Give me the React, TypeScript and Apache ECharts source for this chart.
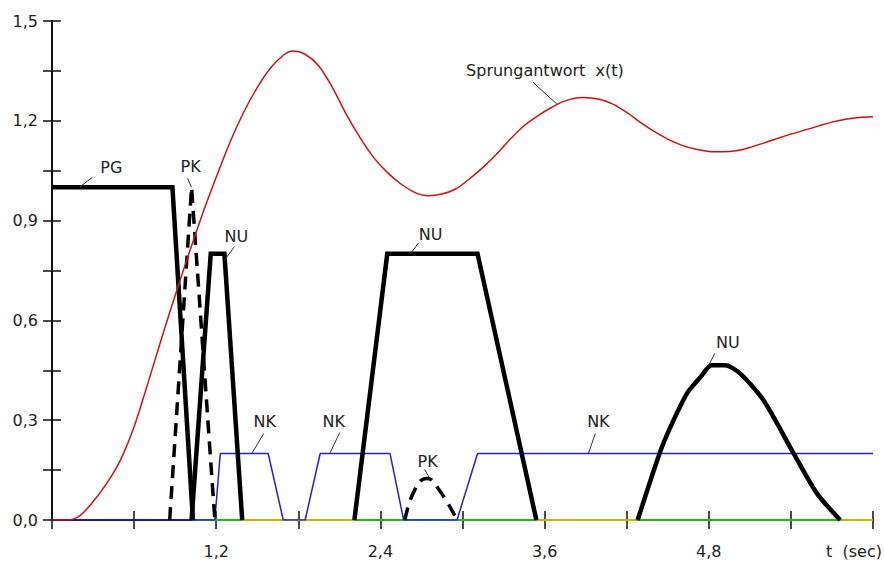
import React, { useEffect, useRef } from "react";
import * as echarts from "echarts";

// Sprungantwort x(t)
const redT = [0, 0.1, 0.2, 0.3, 0.4, 0.5, 0.6, 0.7, 0.8, 0.9, 1.0, 1.1, 1.2, 1.3, 1.4, 1.5, 1.6, 1.7, 1.76, 1.85, 1.95, 2.05, 2.15, 2.25, 2.35, 2.45, 2.55, 2.65, 2.75, 2.85, 2.95, 3.05, 3.15, 3.25, 3.35, 3.45, 3.55, 3.65, 3.75, 3.88, 4.0, 4.1, 4.2, 4.3, 4.4, 4.5, 4.6, 4.7, 4.8, 4.9, 5.0, 5.1, 5.2, 5.3, 5.4, 5.5, 5.6, 5.7, 5.8, 5.9, 6.0];
const redV = [0, 0, 0.012, 0.055, 0.11, 0.18, 0.28, 0.41, 0.545, 0.675, 0.8, 0.92, 1.03, 1.135, 1.225, 1.3, 1.36, 1.4, 1.41, 1.4, 1.365, 1.3, 1.22, 1.15, 1.09, 1.045, 1.01, 0.985, 0.975, 0.98, 0.995, 1.025, 1.06, 1.1, 1.145, 1.185, 1.215, 1.24, 1.26, 1.27, 1.265, 1.25, 1.225, 1.195, 1.168, 1.145, 1.127, 1.115, 1.108, 1.107, 1.11, 1.12, 1.133, 1.147, 1.16, 1.172, 1.184, 1.196, 1.205, 1.21, 1.212];

// PG
const pgT = [0, 0.88, 1.03];
const pgV = [1, 1, 0];

// PK (dashed)
const pk1T = [0.86, 1.02, 1.19];
const pk1V = [0, 1.0, 0];
const pk2T = [2.58, 2.65, 2.74, 2.83, 2.96];
const pk2V = [0, 0.09, 0.125, 0.09, 0];

// NU
const nu1T = [1.02, 1.16, 1.26, 1.39];
const nu1V = [0, 0.8, 0.8, 0];
const nu2T = [2.21, 2.45, 3.11, 3.54];
const nu2V = [0, 0.8, 0.8, 0];
const nu3T = [4.28, 4.44, 4.52, 4.64, 4.74, 4.82, 4.92, 5.03, 5.2, 5.42, 5.59, 5.76];
const nu3V = [0, 0.2, 0.28, 0.38, 0.43, 0.465, 0.465, 0.44, 0.36, 0.2, 0.08, 0];

// NK
const nkT = [0, 1.19, 1.23, 1.58, 1.69, 1.85, 1.96, 2.47, 2.57, 2.96, 3.11, 6.0];
const nkV = [0, 0, 0.2, 0.2, 0, 0, 0.2, 0.2, 0, 0, 0.2, 0.2];

// zero-level segments of the other sets
const greenZero = [[1.02, 1.39], [2.21, 3.54], [4.28, 5.76]];
const yellowZero = [[1.39, 2.21], [3.54, 4.28], [5.76, 6.0]];

// tick labels
const xTickValues = [1.2, 2.4, 3.6, 4.8];
const xTickLabels = ["1,2", "2,4", "3,6", "4,8"];
const yTickValues = [0, 0.3, 0.6, 0.9, 1.2, 1.5];
const yTickLabels = ["0,0", "0,3", "0,6", "0,9", "1,2", "1,5"];
const xAxisTitle = "t  (sec)";

// annotation anchors (data coords)
const annText = ["PG", "PK", "NU", "NK", "NK", "PK", "NU", "NK", "NU", "Sprungantwort  x(t)"];
const annT = [0.2, 1.02, 1.26, 1.46, 2.03, 2.76, 2.62, 3.92, 4.8, 3.69];
const annV = [1.0, 1.0, 0.78, 0.2, 0.2, 0.125, 0.8, 0.2, 0.465, 1.25];
// layout offsets in px: leader end, text centre
const annLeader = [[13, -10], [-4, -9], [10, -14], [12, -20], [10, -21], [-5, -9], [8, -11], [7, -20], [6, -12], [-24, -22]];
const annTextOff = [[32, -20], [-1, -21], [12, -24], [13, -32], [4, -32], [-2, -17], [20, -19], [10, -32], [19, -23], [-12, -34]];

const FONT = '16px "DejaVu Sans", sans-serif';

function pairs(t: number[], v: number[]) {
  return t.map((x, i) => [x, v[i]]);
}

function lookup(values: number[], labels: string[], v: number) {
  for (let i = 0; i < values.length; i++) {
    if (Math.abs(values[i] - v) < 1e-6) return labels[i];
  }
  return "";
}

export default function App() {
  const ref = useRef<HTMLDivElement>(null);
  useEffect(() => {
    document.body.style.margin = "0";
    if (!ref.current) return;
    const chart = echarts.init(ref.current, undefined, { renderer: "svg" });

    const axisLine = { show: true, lineStyle: { color: "#111", width: 2 } };
    const axisTick = { show: true, inside: true, length: 9, lineStyle: { color: "#111", width: 1.5 } };

    const black = (name: string, t: number[], v: number[], dashed = false, smooth: any = false) => ({
      type: "line",
      name,
      data: pairs(t, v),
      showSymbol: false,
      smooth,
      z: 4,
      lineStyle: { color: "#000", width: dashed ? 3.5 : 4.5, type: dashed ? [13, 8] : "solid", cap: "butt", join: "miter" },
    });

    const zeroSeg = (seg: number[], color: string) => ({
      type: "line",
      data: [[seg[0], 0], [seg[1], 0]],
      showSymbol: false,
      z: 2,
      lineStyle: { color, width: 2 },
    });

    const series: any[] = [
      ...yellowZero.map((s) => zeroSeg(s, "#c8b400")),
      ...greenZero.map((s) => zeroSeg(s, "#22bb22")),
      {
        type: "line",
        name: "NK",
        data: pairs(nkT, nkV),
        showSymbol: false,
        z: 3,
        lineStyle: { color: "#2222cc", width: 1.5 },
      },
      black("PG", pgT, pgV),
      black("PK", pk1T, pk1V, true),
      black("PK", pk2T, pk2V, true, true),
      black("NU", nu1T, nu1V),
      black("NU", nu2T, nu2V),
      black("NU", nu3T, nu3V, false, 0.25),
      {
        type: "line",
        name: "x(t)",
        data: pairs(redT, redV),
        showSymbol: false,
        smooth: 0.3,
        z: 5,
        lineStyle: { color: "#cc1111", width: 1.5 },
      },
    ];

    const xBase = { type: "value", min: 0, max: 6, interval: 0.6, splitLine: { show: false }, axisLine, axisTick };
    const yBase = { type: "value", min: 0, max: 1.5, interval: 0.15, splitLine: { show: false }, axisLine, axisTick };

    chart.setOption({
      animation: false,
      backgroundColor: "#fff",
      grid: { left: 52, right: 11, top: 21, bottom: 43 },
      xAxis: [
        {
          ...xBase,
          position: "bottom",
          axisLabel: {
            color: "#222",
            fontSize: 16,
            fontFamily: "DejaVu Sans",
            margin: 23,
            formatter: (v: number) => lookup(xTickValues, xTickLabels, v),
          },
        },
        { ...xBase, position: "top", axisLabel: { show: false } },
      ],
      yAxis: [
        {
          ...yBase,
          position: "left",
          axisLabel: {
            color: "#222",
            fontSize: 16,
            fontFamily: "DejaVu Sans",
            margin: 14,
            formatter: (v: number) => lookup(yTickValues, yTickLabels, v),
          },
        },
        { ...yBase, position: "right", axisLabel: { show: false } },
      ],
      series,
    });

    const graphics: any[] = [];
    annText.forEach((txt, i) => {
      const p = chart.convertToPixel({ xAxisIndex: 0, yAxisIndex: 0 }, [annT[i], annV[i]]) as number[];
      graphics.push({
        type: "line",
        shape: { x1: p[0], y1: p[1], x2: p[0] + annLeader[i][0], y2: p[1] + annLeader[i][1] },
        style: { stroke: "#333", lineWidth: 1 },
        z: 10,
      });
      graphics.push({
        type: "text",
        x: p[0] + annTextOff[i][0],
        y: p[1] + annTextOff[i][1],
        style: { text: txt, fill: "#222", font: FONT, textAlign: "center", textVerticalAlign: "middle" },
        z: 10,
      });
    });
    const o = chart.convertToPixel({ xAxisIndex: 0, yAxisIndex: 0 }, [6, 0]) as number[];
    graphics.push({
      type: "text",
      x: o[0] + 9,
      y: o[1] + 31,
      style: { text: xAxisTitle, fill: "#222", font: FONT, textAlign: "right", textVerticalAlign: "middle" },
      z: 10,
    });
    chart.setOption({ graphic: graphics });

    return () => chart.dispose();
  }, []);

  return <div ref={ref} style={{ width: 884, height: 563 }} />;
}
